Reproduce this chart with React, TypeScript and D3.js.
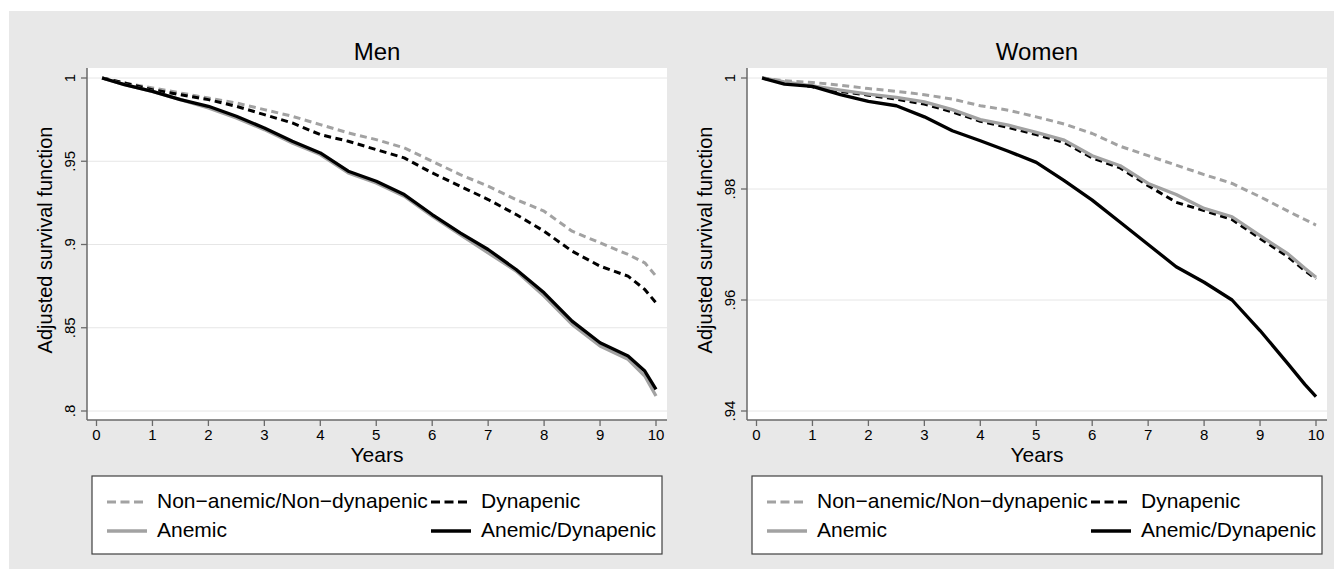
import React from "react";
import * as d3 from "d3";

// follow-up times (years) at which the curves were read
const TIMES = [0.1, 0.5, 1, 1.5, 2, 2.5, 3, 3.5, 4, 4.5, 5, 5.5, 6, 6.5, 7, 7.5, 8, 8.5, 9, 9.5, 9.8, 10];

// Men
const MEN_NON_ANEMIC = [1.0, 0.997, 0.994, 0.991, 0.988, 0.985, 0.981, 0.977, 0.972, 0.967, 0.963, 0.958, 0.95, 0.942, 0.935, 0.927, 0.92, 0.908, 0.901, 0.894, 0.889, 0.881];
const MEN_DYNAPENIC = [1.0, 0.997, 0.993, 0.99, 0.987, 0.983, 0.978, 0.973, 0.966, 0.962, 0.957, 0.952, 0.943, 0.935, 0.927, 0.918, 0.908, 0.896, 0.887, 0.881, 0.873, 0.865];
const MEN_ANEMIC = [1.0, 0.996, 0.992, 0.987, 0.982, 0.976, 0.969, 0.961, 0.954, 0.943, 0.937, 0.929, 0.917, 0.906, 0.895, 0.884, 0.869, 0.852, 0.839, 0.831, 0.821, 0.809];
const MEN_ANEMIC_DYNAPENIC = [1.0, 0.996, 0.992, 0.987, 0.983, 0.977, 0.97, 0.962, 0.955, 0.944, 0.938, 0.93, 0.918, 0.907, 0.897, 0.885, 0.871, 0.854, 0.841, 0.833, 0.824, 0.813];

// Women
const WOMEN_NON_ANEMIC = [1.0, 0.9995, 0.9992, 0.9987, 0.9981, 0.9976, 0.997, 0.9962, 0.995, 0.9942, 0.993, 0.9917, 0.99, 0.9877, 0.986, 0.9843, 0.9826, 0.981, 0.9786, 0.976, 0.9745, 0.9735];
const WOMEN_DYNAPENIC = [1.0, 0.9992, 0.9984, 0.9976, 0.9969, 0.9962, 0.9953, 0.9939, 0.9922, 0.9911, 0.9898, 0.9884, 0.9856, 0.9838, 0.9806, 0.9776, 0.9761, 0.9745, 0.9711, 0.9678, 0.9653, 0.9638];
const WOMEN_ANEMIC = [1.0, 0.9993, 0.9986, 0.9978, 0.9971, 0.9965, 0.9957, 0.9943, 0.9925, 0.9915, 0.9902, 0.9888, 0.986, 0.9842, 0.981, 0.979, 0.9765, 0.975, 0.9716, 0.9683, 0.9657, 0.9641];
const WOMEN_ANEMIC_DYNAPENIC = [1.0, 0.9989, 0.9985, 0.997, 0.9958, 0.995, 0.993, 0.9905, 0.9887, 0.9868, 0.9848, 0.9815, 0.978, 0.974, 0.97, 0.966, 0.9632, 0.96, 0.9545, 0.9485, 0.9448, 0.9426];

const X_TICKS = [0, 1, 2, 3, 4, 5, 6, 7, 8, 9, 10];
const MEN_Y_TICKS = [0.8, 0.85, 0.9, 0.95, 1];
const MEN_Y_LABELS = [".8", ".85", ".9", ".95", "1"];
const WOMEN_Y_TICKS = [0.94, 0.96, 0.98, 1];
const WOMEN_Y_LABELS = [".94", ".96", ".98", "1"];

const SERIES_LABELS = ["Non\u2212anemic/Non\u2212dynapenic", "Dynapenic", "Anemic", "Anemic/Dynapenic"];

const FONT = "'Liberation Sans', Arial, Helvetica, sans-serif";
const GRAY = "#a2a2a2";
const STYLES = [
  { color: GRAY, dash: "7 4.5", width: 3 },
  { color: "#000", dash: "7 4.5", width: 3 },
  { color: GRAY, dash: null, width: 3.3 },
  { color: "#000", dash: null, width: 3.3 },
];

function Panel({ ox, title, series, yTicks, yLabels }) {
  const x = d3.scaleLinear().domain([0, 10]).range([ox + 96.5, ox + 656]);
  const y = d3.scaleLinear().domain([yTicks[0], 1]).range([411, 78]);
  const line = d3
    .line<number>()
    .x((d, i) => x(TIMES[i]))
    .y((d) => y(d));

  const plotL = ox + 87;
  const plotR = ox + 667;

  // legend slots: row-major, two columns
  const slots = [
    { sx: ox + 107, tx: ox + 157, row: 0 },
    { sx: ox + 431, tx: ox + 481, row: 0 },
    { sx: ox + 107, tx: ox + 157, row: 1 },
    { sx: ox + 431, tx: ox + 481, row: 1 },
  ];

  return (
    <g fontFamily={FONT}>
      <text x={ox + 377} y={60} fontSize={24} textAnchor="middle" fill="#000">
        {title}
      </text>
      <rect x={plotL} y={68} width={plotR - plotL} height={420 - 68} fill="#fff" />
      {yTicks.map((t) => (
        <line key={"g" + t} x1={plotL} x2={plotR} y1={y(t)} y2={y(t)} stroke="#e6e6e6" strokeWidth={1} />
      ))}
      {series.map((s, i) => (
        <path
          key={"s" + i}
          d={line(s) || ""}
          fill="none"
          stroke={STYLES[i].color}
          strokeWidth={STYLES[i].width}
          strokeDasharray={STYLES[i].dash || undefined}
          strokeLinejoin="round"
        />
      ))}
      {/* y axis */}
      <line x1={plotL} x2={plotL} y1={68} y2={420} stroke="#6a6a6a" strokeWidth={1.5} />
      {yTicks.map((t, i) => (
        <g key={"yt" + t}>
          <line x1={plotL - 6} x2={plotL} y1={y(t)} y2={y(t)} stroke="#6a6a6a" strokeWidth={1.3} />
          <text
            transform={`translate(${ox + 75},${y(t)}) rotate(-90)`}
            textAnchor="middle"
            fontSize={15}
            fill="#000"
          >
            {yLabels[i]}
          </text>
        </g>
      ))}
      <text
        transform={`translate(${ox + 52},${240}) rotate(-90)`}
        textAnchor="middle"
        fontSize={20}
        fill="#000"
      >
        Adjusted survival function
      </text>
      {/* x axis */}
      <line x1={plotL} x2={plotR} y1={420} y2={420} stroke="#6a6a6a" strokeWidth={1.5} />
      {X_TICKS.map((t) => (
        <g key={"xt" + t}>
          <line x1={x(t)} x2={x(t)} y1={420} y2={426} stroke="#6a6a6a" strokeWidth={1.3} />
          <text x={x(t)} y={440} textAnchor="middle" fontSize={15} fill="#000">
            {t}
          </text>
        </g>
      ))}
      <text x={ox + 377} y={462} textAnchor="middle" fontSize={21} fill="#000">
        Years
      </text>
      {/* legend */}
      <rect x={ox + 92} y={476} width={570} height={78} fill="#fff" stroke="#404040" strokeWidth={1.2} />
      {slots.map((sl, i) => (
        <g key={"l" + i}>
          <line
            x1={sl.sx}
            x2={sl.sx + 40}
            y1={502 + sl.row * 29}
            y2={502 + sl.row * 29}
            stroke={STYLES[i].color}
            strokeWidth={STYLES[i].width}
            strokeDasharray={STYLES[i].dash ? "9 4.5" : undefined}
          />
          <text x={sl.tx} y={508 + sl.row * 29} fontSize={21} fill="#000">
            {SERIES_LABELS[i]}
          </text>
        </g>
      ))}
    </g>
  );
}

export default function App() {
  return (
    <svg
      width={1342}
      height={579}
      style={{ position: "absolute", left: 0, top: 0, background: "#fff" }}
    >
      <rect x={9} y={11} width={1325} height={558} fill="#e8e8e8" />
      <Panel
        ox={0}
        title="Men"
        series={[MEN_NON_ANEMIC, MEN_DYNAPENIC, MEN_ANEMIC, MEN_ANEMIC_DYNAPENIC]}
        yTicks={MEN_Y_TICKS}
        yLabels={MEN_Y_LABELS}
      />
      <Panel
        ox={660}
        title="Women"
        series={[WOMEN_NON_ANEMIC, WOMEN_DYNAPENIC, WOMEN_ANEMIC, WOMEN_ANEMIC_DYNAPENIC]}
        yTicks={WOMEN_Y_TICKS}
        yLabels={WOMEN_Y_LABELS}
      />
    </svg>
  );
}
